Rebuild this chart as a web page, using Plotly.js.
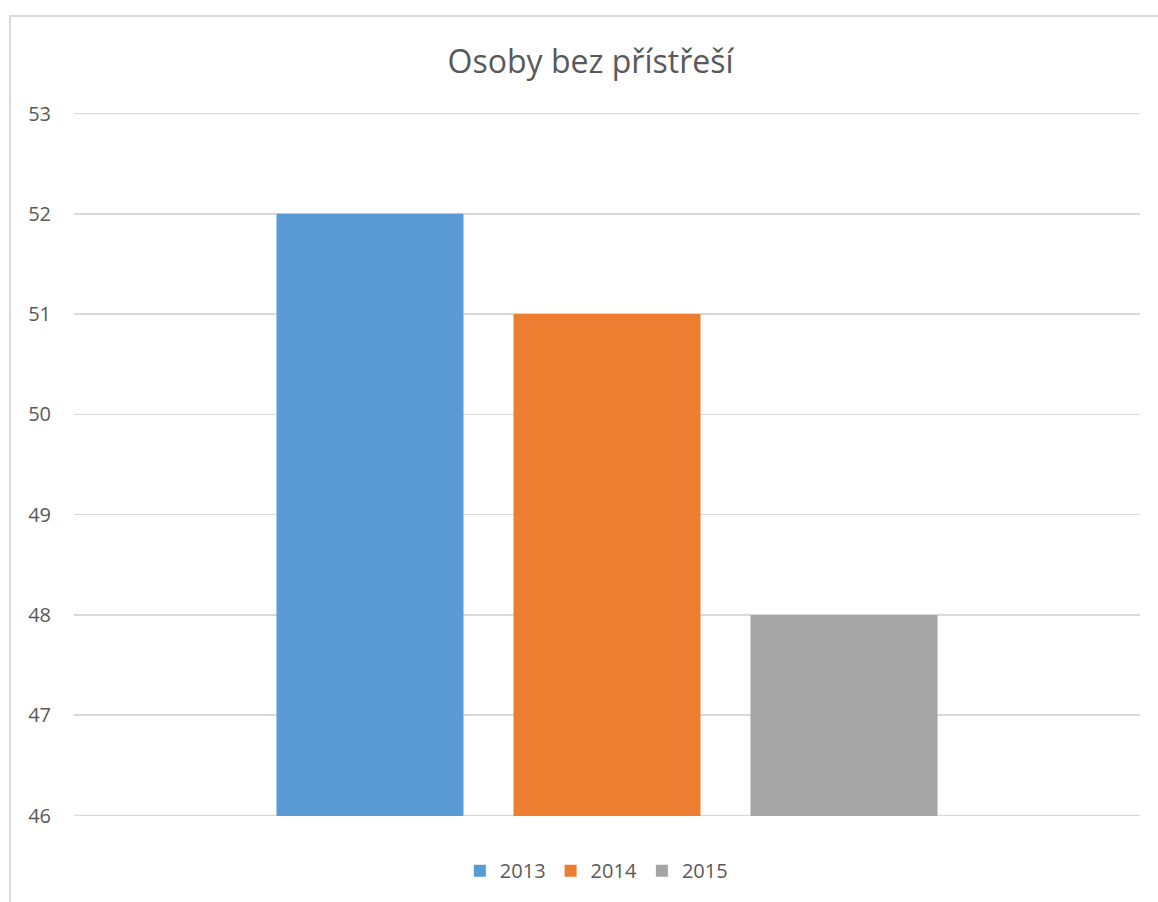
<!DOCTYPE html>
<html>
<head>
<meta charset="utf-8">
<script src="https://cdn.plot.ly/plotly-3.0.1.min.js"></script>
<style>
html,body{margin:0;padding:0;background:#fff;overflow:hidden;}
#chart{width:1158px;height:902px;}
#frame{position:absolute;left:9px;top:15px;width:1200px;height:1000px;border:2px solid #d9d9d9;pointer-events:none;box-sizing:border-box;}
</style>
</head>
<body>
<div id="chart"></div>
<div id="frame"></div>
<script>
const chartTitle = "Osoby bez přístřeší";
const categories = [""];
const seriesNames = ["2013", "2014", "2015"];
const seriesValues = [[52], [51], [48]];
const seriesColors = ["#5b9bd5", "#ed7d31", "#a5a5a5"];
const yTicks = [46, 47, 48, 49, 50, 51, 52, 53];

const font = "Open Sans, Liberation Sans, sans-serif";
const traces = seriesNames.map((n, i) => ({
  type: "bar",
  name: n,
  x: categories,
  y: seriesValues[i],
  marker: {color: seriesColors[i]},
  hoverinfo: "skip"
}));

const yMin = yTicks[0], yMax = yTicks[yTicks.length - 1];
const edgeLines = [yMin, yMax].map(v => ({
  type: "line", xref: "paper", yref: "y", x0: 0, x1: 1, y0: v, y1: v,
  line: {color: "#d9d9d9", width: 1.5}, layer: "below"
}));

const layout = {
  width: 1158, height: 902,
  margin: {l: 74, r: 18, t: 113, b: 86},
  paper_bgcolor: "#fff", plot_bgcolor: "#fff",
  title: {text: chartTitle, x: 0.51, xanchor: "center", y: 0.932, yanchor: "middle",
          font: {family: font, size: 32, color: "#595959"}},
  barmode: "group",
  bargap: 0.333,
  bargroupgap: 0.211,
  xaxis: {showticklabels: false, showgrid: false, zeroline: false, showline: false, ticks: ""},
  yaxis: {range: [yMin - 0.005, yMax + 0.005], tickvals: yTicks, showgrid: true, gridcolor: "#d9d9d9", gridwidth: 1.5,
          zeroline: false, showline: false, ticks: "", ticklabelstandoff: 22,
          tickfont: {family: font, size: 20, color: "#595959"}},
  shapes: edgeLines,
  showlegend: true,
  legend: {orientation: "h", x: 0.49, xanchor: "center", y: -0.05, yanchor: "top",
           font: {family: font, size: 20, color: "#595959"}, itemwidth: 30, tracegroupgap: 0}
};

Plotly.newPlot("chart", traces, layout, {staticPlot: true});
</script>
</body>
</html>
